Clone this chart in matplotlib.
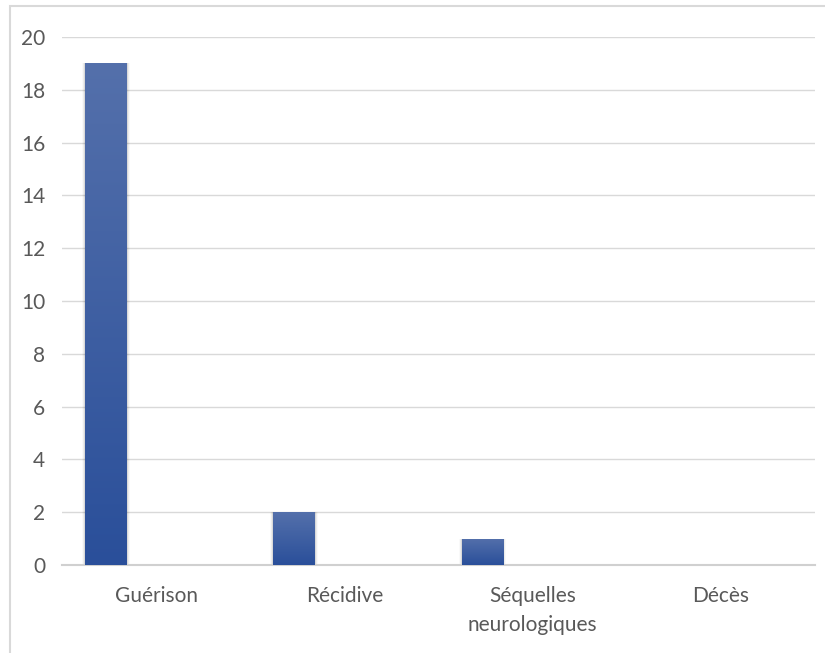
import matplotlib.pyplot as plt
import numpy as np
from matplotlib.patches import Rectangle
from matplotlib.colors import LinearSegmentedColormap

categories = ['Guérison', 'Récidive', 'Séquelles\nneurologiques', 'Décès']
counts = [19, 2, 1, 0]
yticks = [0, 2, 4, 6, 8, 10, 12, 14, 16, 18, 20]

plt.rcParams['font.family'] = ['Lato', 'DejaVu Sans']

fig = plt.figure(figsize=(8.25, 6.53), dpi=100)
ax = fig.add_axes([62 / 825, 1 - 565 / 653, (815 - 62) / 825, (565 - 37) / 653])

x = np.arange(len(categories))
offset = -0.266
width = 0.223

# soft drop shadow along the sides, then the bars filled with a vertical gradient
cmap = LinearSegmentedColormap.from_list('bar', ['#2a4f9a', '#5470ab'])
grad = np.linspace(0, 1, 256).reshape(-1, 1)
for xi, v in zip(x, counts):
    for k, a in enumerate([0.08, 0.05, 0.025]):
        d = 0.005 * (k + 1)
        ax.add_patch(Rectangle((xi + offset - width / 2 - d, 0), width + 2 * d,
                               v, color='#000000', alpha=a, lw=0, zorder=2))
bars = ax.bar(x + offset, counts, width, color='#2f549e', zorder=3)
for b in bars:
    h = b.get_height()
    if h <= 0:
        continue
    im = ax.imshow(grad, cmap=cmap, aspect='auto', origin='lower',
                   extent=[b.get_x(), b.get_x() + b.get_width(), 0, h], zorder=4)
    im.set_clip_path(b)
ax.set_xlim(-0.5, len(categories) - 0.5)
ax.set_ylim(0, 20)

ax.set_yticks(yticks)
ax.set_xticks(x, labels=categories)
ax.yaxis.grid(True, color='#d9d9d9', lw=1)
ax.set_axisbelow(True)
ax.tick_params(length=0, labelsize=15, labelcolor='#595959')
ax.tick_params(axis='x', pad=15)
ax.tick_params(axis='y', pad=12)
for lbl in ax.get_xticklabels():
    lbl.set_linespacing(1.55)

ax.spines[['left', 'right', 'top']].set_visible(False)
ax.spines['bottom'].set_color('#d0d0d0')
ax.spines['bottom'].set_linewidth(1.5)

# chart area border (cut off on the right and bottom)
fig.add_artist(Rectangle((10 / 825, -0.05), 1.1, 1 - 6 / 653 + 0.05,
                         transform=fig.transFigure, fill=False,
                         edgecolor='#d9d9d9', lw=1.5))

fig.savefig('out.png', dpi=100)
